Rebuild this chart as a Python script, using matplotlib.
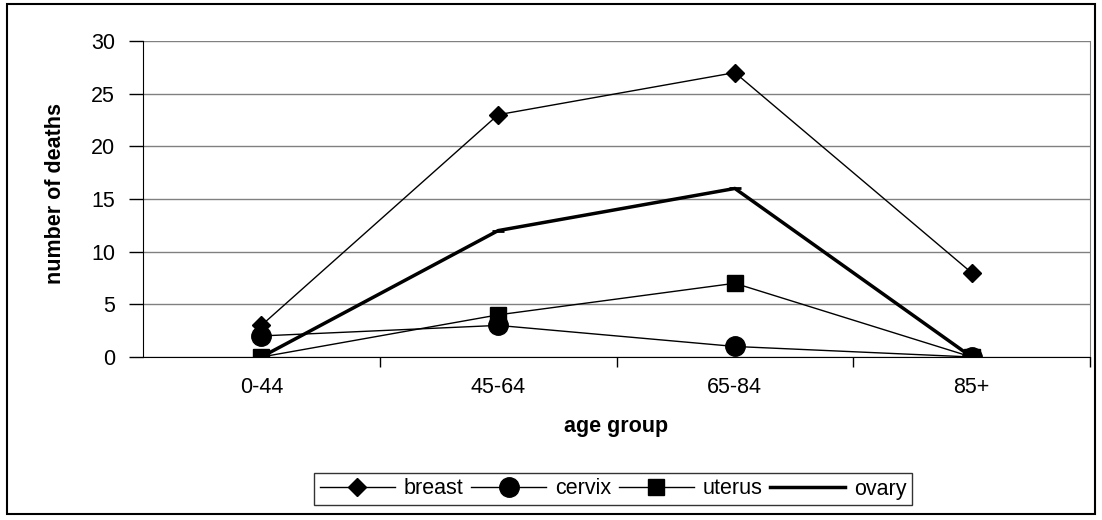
import matplotlib.pyplot as plt
from matplotlib.patches import Rectangle

plt.rcParams['font.family'] = ['Liberation Sans', 'DejaVu Sans']

age_groups = ['0-44', '45-64', '65-84', '85+']
breast = [3, 23, 27, 8]
cervix = [2, 3, 1, 0]
uterus = [0, 4, 7, 0]
ovary = [0, 12, 16, 0]

fig = plt.figure(figsize=(11.02, 5.2), dpi=100)
ax = fig.add_axes([143 / 1102, 1 - 357 / 520, (1090 - 143) / 1102, (357 - 41) / 520])

x = range(len(age_groups))
ax.plot(x, breast, color='black', lw=1, marker='D', ms=9, label='breast')
ax.plot(x, cervix, color='black', lw=1, marker='o', ms=14, label='cervix')
ax.plot(x, uterus, color='black', lw=1, marker='s', ms=11, label='uterus')
ax.plot(x, ovary, color='black', lw=2.5, marker='_', ms=9, mew=2, label='ovary')

ax.set_xlim(-0.5, len(age_groups) - 0.5)
ax.set_ylim(0, 30)
ax.set_yticks(range(0, 31, 5))
ax.set_xticks(x)
ax.set_xticklabels(age_groups)
ax.set_xticks([i + 0.5 for i in range(len(age_groups))], minor=True)
ax.tick_params(axis='x', which='major', length=0, pad=14.5, labelsize=15.5)
ax.tick_params(axis='x', which='minor', length=7, width=1)
ax.tick_params(axis='y', length=10, width=1, pad=10, labelsize=15.5)
ax.grid(True, axis='y', color='#808080', lw=1)
ax.set_axisbelow(True)

for s in ['left', 'bottom']:
    ax.spines[s].set_color('black')
ax.spines['top'].set_visible(False)
ax.spines['right'].set_color('#808080')

ax.set_xlabel('age group', fontweight='bold', fontsize=15.5)
ax.set_ylabel('number of deaths', fontweight='bold', fontsize=15.5)
ax.xaxis.set_label_coords(0.5, -0.187)
ax.yaxis.set_label_coords(-0.081, 0.516)

leg = fig.legend(loc='center', bbox_to_anchor=(613 / 1102, 1 - 489 / 520), ncol=4,
                 frameon=True, fancybox=False, edgecolor='black', fontsize=15.5,
                 handlelength=3.5, columnspacing=0.35, handletextpad=0.4,
                 borderpad=0.25, borderaxespad=0)
leg.get_frame().set_linewidth(1)

fig.patches.append(Rectangle((7 / 1102, 1 - 514 / 520), 1088 / 1102, 510 / 520,
                             transform=fig.transFigure, fill=False, edgecolor='black', lw=1.5))

fig.savefig('out.png', dpi=100)
